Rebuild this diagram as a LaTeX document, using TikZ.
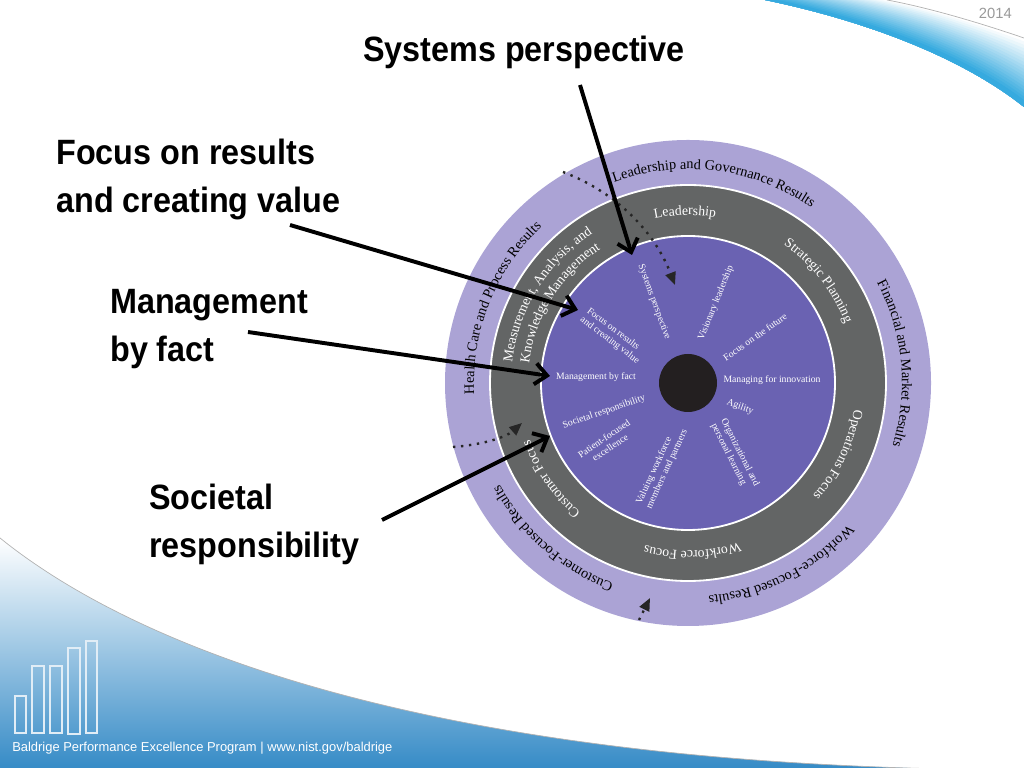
\documentclass[tikz,border=0pt]{standalone}
\usepackage{fontspec}
\setmainfont{Liberation Serif}
\newfontfamily\headfont{Liberation Sans}[FakeStretch=0.92]
\newfontfamily\footfont{Liberation Sans}
\usetikzlibrary{arrows.meta,calc,decorations.text}
\definecolor{bandlilac}{RGB}{171,163,213}
\definecolor{ringgrey}{RGB}{99,101,101}
\definecolor{discpurple}{RGB}{106,98,178}
\definecolor{hubblack}{RGB}{35,31,32}
\definecolor{swooshblue}{RGB}{42,165,221}
\definecolor{footblue}{RGB}{52,138,198}
\newcommand{\bandtext}{\fontsize{10.2}{12}\selectfont}
\newcommand{\ringtext}{\color{white}\fontsize{9.8}{12}\selectfont}

\begin{document}
\begin{tikzpicture}[x=0.025cm, y=0.025cm]
\tikzstyle{every node}+=[inner sep=0pt]
\tikzstyle{callout}=[font=\headfont\bfseries\fontsize{25}{34}\selectfont, align=left]
\tikzstyle{spoke}=[text=white, font=\fontsize{6.9}{7.8}\selectfont]
\tikzstyle{pointer}=[black, line width=2.8pt, -{Straight Barb[length=8.5pt,width=15pt]}]
\tikzstyle{flow}=[black!85, line width=1.7pt, dash pattern=on 1.7pt off 4pt, -{Triangle[length=9pt,width=7.5pt]}]
\tikzset{bandlabel/.style={decorate, decoration={text along path, text align=center, text={|\bandtext|#1}}},
  ringlabel/.style={decorate, decoration={text along path, text align=center, text={|\ringtext|#1}}}}
\useasboundingbox (0,0) rectangle (1024,768);

\coordinate (U0) at (887,768);
\coordinate (Uc1) at (930,760);
\coordinate (Uc2) at (980,745);
\coordinate (U3) at (1024,730);
\coordinate (L0) at (765,768);
\coordinate (Lc1) at (862,748);
\coordinate (Lc2) at (960,712);
\coordinate (L3) at (1024,661);
\foreach \t in {0,0.05,...,0.95} {
  \pgfmathsetmacro\p{min(100,105*\t)}
  \fill [swooshblue!\p!white] ($(U0)!\t!(L0)$) .. controls ($(Uc1)!\t!(Lc1)$) and ($(Uc2)!\t!(Lc2)$) .. ($(U3)!\t!(L3)$) -- (L3) .. controls (Lc2) and (Lc1) .. (L0) -- cycle;
}
\draw [black!30, line width=0.5pt] (U0) .. controls (Uc1) and (Uc2) .. (U3);

\shade [top color=white, bottom color=footblue] (0,230) .. controls (130,125) and (420,0) .. (1024,-2) -- (0,-2) -- cycle;
\draw [black!30, line width=0.5pt] (0,230) .. controls (130,125) and (420,0) .. (1024,-2);
\draw [white!85!footblue, line width=0.8pt] (15,35) rectangle (26,72);
\draw [white!85!footblue, line width=0.8pt] (32,35) rectangle (44,102);
\draw [white!85!footblue, line width=0.8pt] (50,35) rectangle (62,102);
\draw [white!85!footblue, line width=0.8pt] (68,34) rectangle (80,120);
\draw [white!85!footblue, line width=0.8pt] (86,35) rectangle (97,127);
\node [anchor=base west, text=white, font=\footfont\fontsize{9.2}{11}\selectfont] (foot) at (12,16) {Baldrige Performance Excellence Program | www.nist.gov/baldrige};
\node [anchor=base east, text=black!40, font=\footfont\fontsize{10.5}{12}\selectfont] (year) at (1012,749) {2014};

\coordinate (hub) at (688,385);
\fill [bandlilac] (hub) circle (243);
\filldraw [fill=ringgrey, draw=white, line width=1.3pt] (hub) circle (198);
\filldraw [fill=discpurple, draw=white, line width=1.3pt] (hub) circle (147);
\fill [hubblack] (hub) circle (29);

\path [bandlabel={Leadership and Governance Results}] ($(hub)+(122.5:214)$) arc (122.5:42.5:214);
\path [bandlabel={Financial and Market Results}] ($(hub)+(45.5:214)$) arc (45.5:-34.5:214);
\path [bandlabel={Workforce-Focused Results}] ($(hub)+(-23:214)$) arc (-23:-103:214);
\path [bandlabel={Customer-Focused Results}] ($(hub)+(-91:214)$) arc (-91:-171:214);
\path [bandlabel={Health Care and Process Results}] ($(hub)+(198:214)$) arc (198:118:214);

\path [ringlabel={Leadership}] ($(hub)+(121:168)$) arc (121:61:168);
\path [ringlabel={Strategic Planning}] ($(hub)+(68:168)$) arc (68:8:168);
\path [ringlabel={Operations Focus}] ($(hub)+(4.5:168)$) arc (4.5:-55.5:168);
\path [ringlabel={Workforce Focus}] ($(hub)+(-58.5:168)$) arc (-58.5:-118.5:168);
\path [ringlabel={Customer Focus}] ($(hub)+(245:168)$) arc (245:185:168);
\path [ringlabel={Measurement, Analysis, and}] ($(hub)+(183:177)$) arc (183:113:177);
\path [ringlabel={Knowledge Management}] ($(hub)+(183:160)$) arc (183:113:160);

\node [spoke, rotate=-70] (systems) at (654,466) {Systems perspective};
\node [spoke, rotate=68] (vision) at (716,465) {Visionary leadership};
\node [spoke, rotate=35] (future) at (755,431) {Focus on the future};
\node [spoke] (innovation) at (772,388) {Managing for innovation};
\node [spoke, rotate=-20] (agility) at (740,361) {Agility};
\node [spoke, rotate=-63, align=left] (learning) at (735,313) {Organizational and\\personal learning};
\node [spoke, rotate=65, align=left] (valuing) at (662,301) {Valuing workforce\\members and partners};
\node [spoke, rotate=34, align=center] (patient) at (607,325) {Patient-focused\\excellence};
\node [spoke, rotate=19] (societal) at (604,356) {Societal responsibility};
\node [spoke] (fact) at (596,391) {Management by fact};
\node [spoke, rotate=-37, align=left] (results) at (613,432) {Focus on results\\and creating value};

\coordinate (cycA0) at (563,596);
\coordinate (cycA1) at (675,483);
\draw [flow] (cycA0) .. controls (618,575) and (655,535) .. (cycA1);
\coordinate (cycB0) at (453,321);
\coordinate (cycB1) at (522,345);
\draw [flow] (cycB0) .. controls (480,323) and (505,330) .. (cycB1);
\coordinate (cycC0) at (639,148);
\coordinate (cycC1) at (650,170);
\draw [flow] (cycC0) -- (cycC1);

\node [callout, anchor=north] (sysp) at (524,732) {Systems perspective};
\node [callout, anchor=north west] (valuep) at (56,629) {Focus on results\\and creating value};
\node [callout, anchor=north west] (factp) at (110,479) {Management\\by fact};
\node [callout, anchor=north west] (socp) at (149,284) {Societal\\responsibility};

\coordinate (sysTail) at (580,683);
\coordinate (sysHead) at (632,513);
\coordinate (valueTail) at (290,543);
\coordinate (valueHead) at (578,458);
\coordinate (factTail) at (248,436);
\coordinate (factHead) at (550,392);
\coordinate (socTail) at (382,248);
\coordinate (socHead) at (550,332);
\draw [pointer] (sysTail) -- (sysHead);
\draw [pointer] (valueTail) -- (valueHead);
\draw [pointer] (factTail) -- (factHead);
\draw [pointer] (socTail) -- (socHead);
\end{tikzpicture}
\end{document}
